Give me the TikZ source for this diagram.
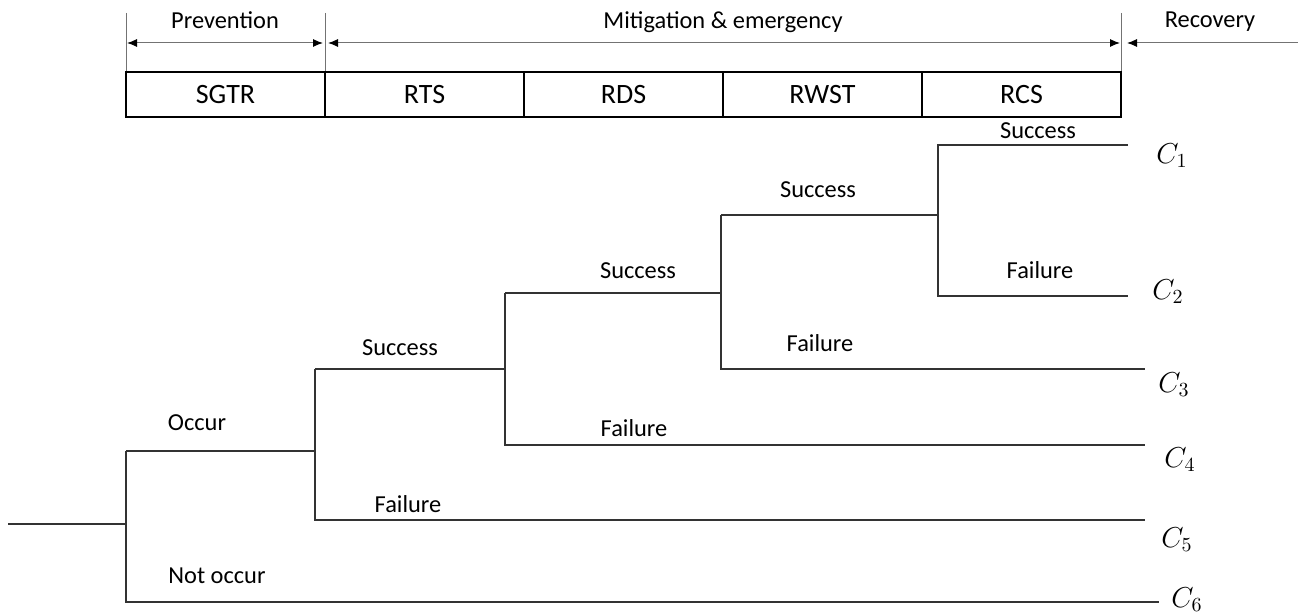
\documentclass[tikz,border=0pt]{standalone}
\usepackage{fontspec}
\setmainfont{Carlito}
\usepackage{tikz}
\usetikzlibrary{arrows.meta,positioning}

\tikzset{
  lbl/.style={font=\fontsize{12.2}{14}\selectfont, inner sep=0pt},
  conseq/.style={font=\fontsize{14}{16}\selectfont, inner sep=0pt},
  cell/.style={draw, line width=0.7pt, minimum width=99.5pt, minimum height=22.5pt,
    inner sep=0pt, outer sep=0pt, font=\fontsize{14}{16}\selectfont},
  tick/.style={black!55, line width=0.5pt},
  span/.style={{Latex[length=5pt,width=4pt,black]}-{Latex[length=5pt,width=4pt,black]}, black!55, line width=0.5pt},
  branch/.style={line width=0.55pt, black!80}
}

\begin{document}
\begin{tikzpicture}[x=0.5pt,y=-0.5pt]
  \useasboundingbox (0,0) rectangle (1298,614);
  % Header: phases
  \draw[tick] (126,13) -- (126,72);
  \draw[tick] (325,13) -- (325,72);
  \draw[tick] (1121,13) -- (1121,72);
  \coordinate (pl) at (127,43);
  \coordinate (pr) at (323,43);
  \coordinate (ml) at (328,43);
  \coordinate (mr) at (1120,43);
  \coordinate (rr) at (1298,43);
  \coordinate (rl) at (1127,43);
  \draw[span] (pl) -- (pr);
  \draw[span] (ml) -- (mr);
  \draw[span, {Latex[length=5pt,width=4pt,black]}-] (rl) -- (rr);
  \node[lbl] (prev) at (225,20) {Prevention};
  \node[lbl] (miti) at (723,22) {Mitigation \& emergency};
  \node[lbl] (reco) at (1210,22) {Recovery};
  % Header: systems
  \node[cell] (sgtr) at (225.5,94.5) {SGTR};
  \node[cell, right=0pt of sgtr] (rts) {RTS};
  \node[cell, right=0pt of rts] (rds) {RDS};
  \node[cell, right=0pt of rds] (rwst) {RWST};
  \node[cell, right=0pt of rwst] (rcs) {RCS};
  % Tree: SGTR
  \coordinate (in) at (8,524);
  \coordinate (a) at (126,524);
  \coordinate (a1) at (126,451);
  \coordinate (a2) at (126,602);
  \coordinate (e6) at (1159,602);
  \draw[branch] (in) -- (a);
  \draw[branch] (a1) -- (a2) -- (e6);
  \node[lbl] (occ) at (197,423) {Occur};
  \node[lbl] (nocc) at (217,576) {Not occur};
  % Tree: RTS
  \coordinate (b) at (315,451);
  \coordinate (b1) at (315,369);
  \coordinate (b2) at (315,520);
  \coordinate (e5) at (1145,520);
  \draw[branch] (a1) -- (b);
  \draw[branch] (b1) -- (b2) -- (e5);
  \node[lbl] (suc1) at (400,348) {Success};
  \node[lbl] (fai1) at (408,504) {Failure};
  % Tree: RDS
  \coordinate (c) at (505,369);
  \coordinate (c1) at (505,293);
  \coordinate (c2) at (505,445);
  \coordinate (e4) at (1145,445);
  \draw[branch] (b1) -- (c);
  \draw[branch] (c1) -- (c2) -- (e4);
  \node[lbl] (suc2) at (638,271) {Success};
  \node[lbl] (fai2) at (634,428) {Failure};
  % Tree: RWST
  \coordinate (d) at (721,293);
  \coordinate (d1) at (721,215);
  \coordinate (d2) at (721,369);
  \coordinate (e3) at (1145,369);
  \draw[branch] (c1) -- (d);
  \draw[branch] (d1) -- (d2) -- (e3);
  \node[lbl] (suc3) at (818,190) {Success};
  \node[lbl] (fai3) at (820,343) {Failure};
  % Tree: RCS
  \coordinate (f) at (938,215);
  \coordinate (f1) at (938,145);
  \coordinate (f2) at (938,296);
  \coordinate (e1) at (1128,145);
  \coordinate (e2) at (1128,296);
  \draw[branch] (d1) -- (f);
  \draw[branch] (e1) -- (f1) -- (f2) -- (e2);
  \node[lbl] (suc4) at (1038,131) {Success};
  \node[lbl] (fai4) at (1040,270) {Failure};
  % Consequences
  \node[conseq] (cons1) at (1172,156) {$C_1$};
  \node[conseq] (cons2) at (1168,292) {$C_2$};
  \node[conseq] (cons3) at (1174,385) {$C_3$};
  \node[conseq] (cons4) at (1180,460) {$C_4$};
  \node[conseq] (cons5) at (1177,540) {$C_5$};
  \node[conseq] (cons6) at (1187,600) {$C_6$};
\end{tikzpicture}
\end{document}
